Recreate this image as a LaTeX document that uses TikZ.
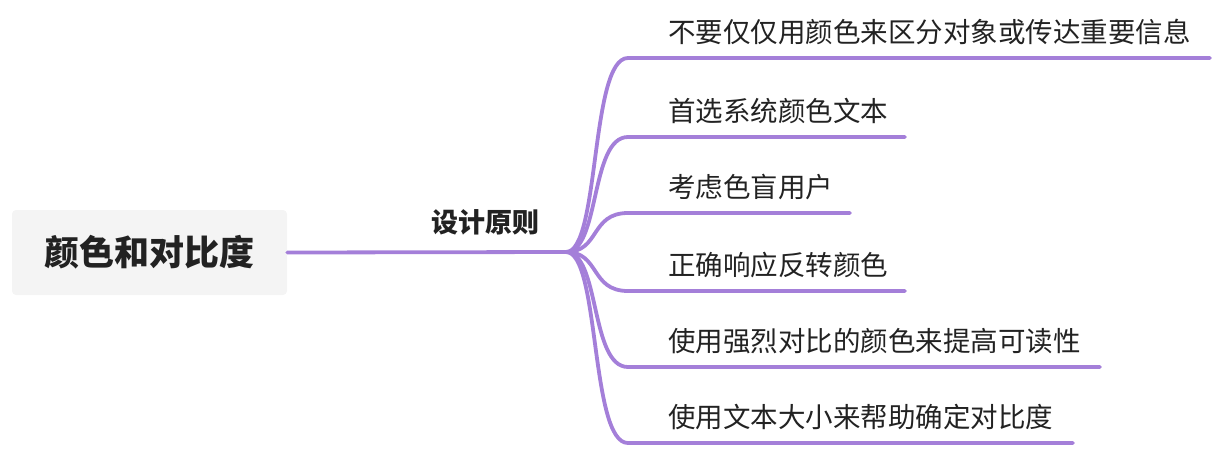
\documentclass[tikz,border=0pt]{standalone}
\usepackage{fontspec}
\setmainfont{Noto Sans CJK SC}
\definecolor{br}{HTML}{A47FD9}
\definecolor{rootbg}{HTML}{F4F4F4}
\definecolor{txt}{HTML}{222222}
\begin{document}
\begin{tikzpicture}[x=1pt,y=-1pt,
  link/.style={draw=br,line width=3.8pt,line cap=round},
  leaf/.style={anchor=west,inner sep=0pt,text=txt,font=\fontsize{27.5}{30}\selectfont}]
\useasboundingbox (0,0) rectangle (1220,448);
\node[fill=rootbg,rounded corners=4pt,minimum width=275pt,minimum height=85pt,inner sep=0pt,text=txt,font=\fontsize{35}{40}\selectfont\bfseries] (root) at (149.5,252.5) {颜色和对比度};
\node[inner sep=0pt,text=txt,font=\fontsize{27}{30}\selectfont\bfseries] (main) at (485,222) {设计原则};
\coordinate (hub) at (566,252);
\draw[link] (root.east) -- (hub);
\foreach \i/\y/\e/\t in {1/58/1210/不要仅仅用颜色来区分对象或传达重要信息,2/137/905/首选系统颜色文本,3/213/850/考虑色盲用户,4/291/905/正确响应反转颜色,5/367/1100/使用强烈对比的颜色来提高可读性,6/443/1073/使用文本大小来帮助确定对比度}{
  \node[leaf] (l\i) at (668,\y-26) {\t};
  \coordinate (s\i) at (628,\y);
  \coordinate (e\i) at (\e,\y);
  \draw[link] (hub) .. controls (600,252) and (590,\y) .. (s\i) -- (e\i);
}
\end{tikzpicture}
\end{document}
